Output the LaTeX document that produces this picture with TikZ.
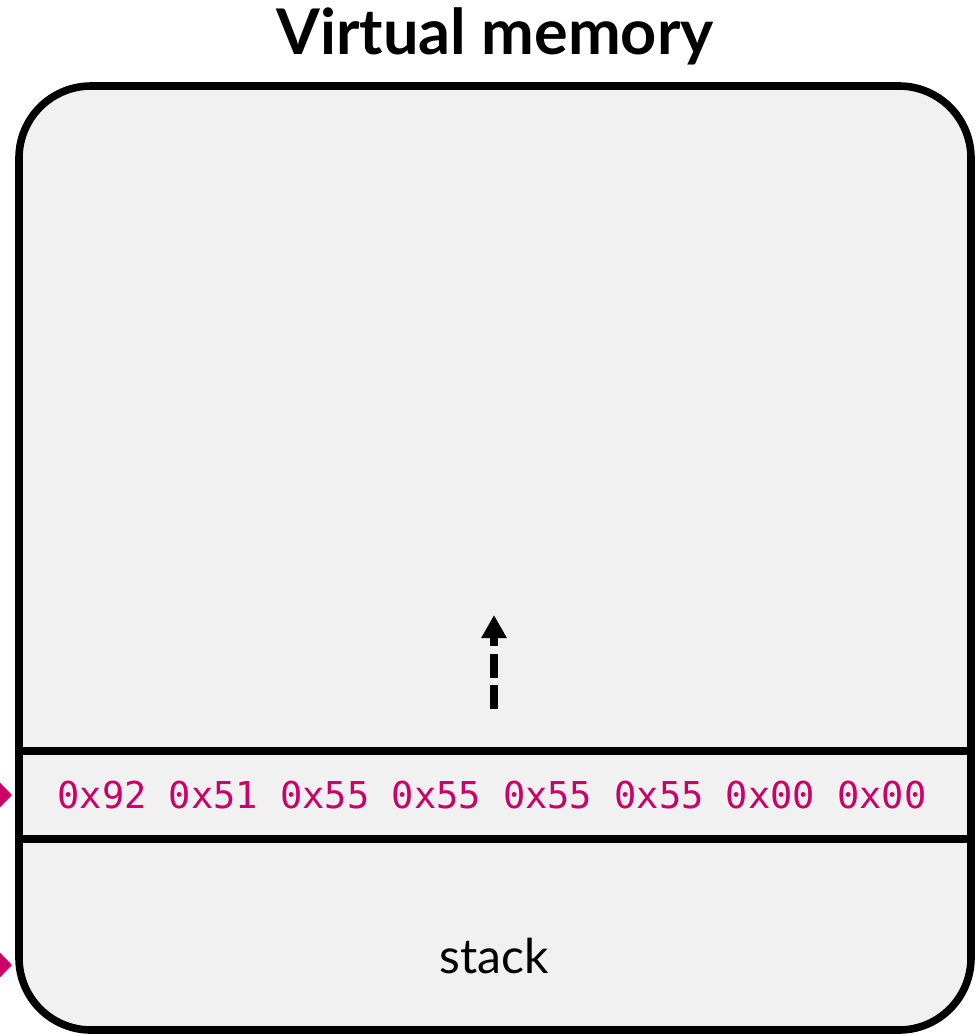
\documentclass[tikz,border=0pt]{standalone}
\usepackage{fontspec}
\usepackage{tikz}
\usetikzlibrary{arrows.meta, positioning}
\setmainfont{Lato}
\setmonofont{DejaVu Sans Mono}
\definecolor{memgray}{RGB}{241, 241, 241}
\definecolor{bytemagenta}{RGB}{204, 0, 102}

\begin{document}
\begin{tikzpicture}[x=0.5pt, y=-0.5pt]
  \useasboundingbox (0,0) rectangle (980,1035);
  \clip (0,0) rectangle (980,1035);

  % Memory box
  \node[draw, line width=3.8pt, rounded corners=36pt, fill=memgray, inner sep=0pt,
        minimum width=476pt, minimum height=472pt] (mem) at (495,558) {};
  \node[anchor=base, font=\bfseries\fontsize{31.5}{36}\selectfont] (title) at (495,54) {Virtual memory};

  % Stack frame slot
  \draw[line width=3.8pt] (mem.west |- 0,751) -- (mem.east |- 0,751);
  \draw[line width=3.8pt] (mem.west |- 0,839) -- (mem.east |- 0,839);
  \node[font=\ttfamily\fontsize{18.5}{22}\selectfont, text=bytemagenta] (bytes) at (492,795)
    {0x92 0x51 0x55 0x55 0x55 0x55 0x00 0x00};
  \node[anchor=base, font=\fontsize{24}{28}\selectfont] (stack) at (494,973) {stack};

  % Growth direction
  \coordinate (growfrom) at (494,709);
  \coordinate (growto) at (494,615);
  \draw[line width=4pt, dash pattern=on 12pt off 3.75pt, -{Triangle[length=11.5pt, width=12pt]}] (growfrom) -- (growto);

  % Pointers coming in from the left
  \coordinate (ptrA) at (12,795);
  \coordinate (ptrB) at (12,965);
  \draw[bytemagenta, line width=2pt, -{Triangle[length=8pt, width=16pt]}] (-60,795) -- (ptrA);
  \draw[bytemagenta, line width=2pt, -{Triangle[length=8pt, width=16pt]}] (-60,965) -- (ptrB);
\end{tikzpicture}
\end{document}
